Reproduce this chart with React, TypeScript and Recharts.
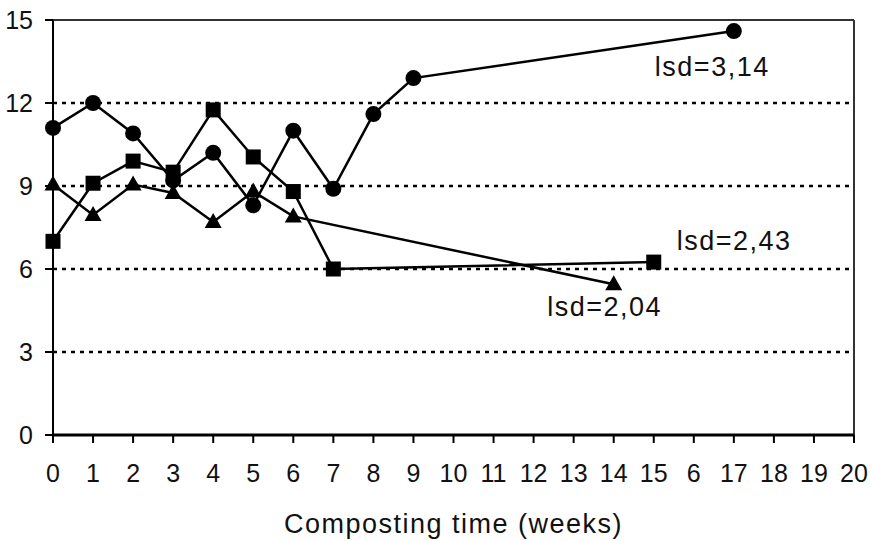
import { LineChart, Line, XAxis, YAxis, ReferenceLine, LabelList } from 'recharts';

const xTicks = [0, 1, 2, 3, 4, 5, 6, 7, 8, 9, 10, 11, 12, 13, 14, 15, 16, 17, 18, 19, 20];
const xTickLabels = ['0', '1', '2', '3', '4', '5', '6', '7', '8', '9', '10', '11', '12', '13', '14', '15', '6', '17', '18', '19', '20'];
const yTicks = [0, 3, 6, 9, 12, 15];
const gridValues = [3, 6, 9, 12];

const circleWeeks = [0, 1, 2, 3, 4, 5, 6, 7, 8, 9, 17];
const circleValues = [11.1, 12.0, 10.9, 9.2, 10.2, 8.3, 11.0, 8.9, 11.6, 12.9, 14.6];

const squareWeeks = [0, 1, 2, 3, 4, 5, 6, 7, 15];
const squareValues = [7.0, 9.1, 9.9, 9.5, 11.75, 10.05, 8.8, 6.0, 6.25];

const triangleWeeks = [0, 1, 2, 3, 4, 5, 6, 14];
const triangleValues = [9.05, 7.95, 9.05, 8.75, 7.7, 8.8, 7.9, 5.45];

const lsdLabels = ['lsd=3,14', 'lsd=2,43', 'lsd=2,04'];

const FONT = '"Liberation Sans", Arial, sans-serif';
const INK = '#000';

const toPoints = (weeks: number[], values: number[]) =>
  weeks.map((week, i) => ({ week, value: values[i] }));

const circleData = toPoints(circleWeeks, circleValues);
const squareData = toPoints(squareWeeks, squareValues);
const triangleData = toPoints(triangleWeeks, triangleValues);

const makeDot = (shape: 'circle' | 'square' | 'triangle') => (props: any) => {
  const { cx, cy, index } = props;
  const key = `${shape}-${index}`;
  if (cx == null || cy == null) return <g key={key} />;
  if (shape === 'circle') return <circle key={key} cx={cx} cy={cy} r={8} fill={INK} />;
  if (shape === 'square') return <rect key={key} x={cx - 7.5} y={cy - 7.5} width={15} height={15} fill={INK} />;
  return (
    <polygon
      key={key}
      points={`${cx},${cy - 9} ${cx + 8.5},${cy + 6} ${cx - 8.5},${cy + 6}`}
      fill={INK}
    />
  );
};

// annotation beside the last point of a series
const makeLsd = (text: string, lastIndex: number, dx: number, dy: number, anchor: string) => (props: any) => {
  const { x, y, index } = props;
  if (index !== lastIndex) return null;
  return (
    <text
      x={x + dx}
      y={y + dy}
      textAnchor={anchor}
      fontSize={27}
      letterSpacing={1.5}
      fontFamily={FONT}
      fill="#111"
    >
      {text}
    </text>
  );
};

const axisTitle = (props: any) => {
  const { viewBox } = props;
  return (
    <text
      x={viewBox.x + viewBox.width / 2}
      y={viewBox.y + 98}
      textAnchor="middle"
      fontSize={27}
      letterSpacing={1.5}
      fontFamily={FONT}
      fill="#111"
    >
      Composting time (weeks)
    </text>
  );
};

export default function App() {
  return (
    <div style={{ position: 'absolute', left: 0, top: 0, background: '#fff' }}>
      <LineChart width={870} height={541} margin={{ top: 20, right: 16, bottom: 0, left: 0 }}>
        <XAxis
          type="number"
          dataKey="week"
          domain={[0, 20]}
          ticks={xTicks}
          interval={0}
          tickFormatter={(v) => xTickLabels[v]}
          height={106}
          tickSize={8}
          tickMargin={21}
          axisLine={{ stroke: INK, strokeWidth: 3 }}
          tickLine={{ stroke: INK, strokeWidth: 2 }}
          tick={{ fill: '#111', fontSize: 25, fontFamily: FONT }}
          label={axisTitle}
        />
        <YAxis
          type="number"
          domain={[0, 15]}
          ticks={yTicks}
          interval={0}
          width={53}
          tickSize={8}
          tickMargin={12}
          axisLine={{ stroke: INK, strokeWidth: 2 }}
          tickLine={{ stroke: INK, strokeWidth: 2 }}
          tick={{ fill: '#111', fontSize: 25, fontFamily: FONT }}
        />
        {gridValues.map((v) => (
          <ReferenceLine key={v} y={v} stroke={INK} strokeWidth={2.5} strokeDasharray="4 5" />
        ))}
        <ReferenceLine y={15} stroke="#333" strokeWidth={2} />
        <ReferenceLine x={20} stroke="#333" strokeWidth={2} />

        <Line
          data={circleData}
          dataKey="value"
          stroke={INK}
          strokeWidth={2.5}
          dot={makeDot('circle')}
          isAnimationActive={false}
        >
          <LabelList dataKey="value" content={makeLsd(lsdLabels[0], circleData.length - 1, -79, 45, 'start')} />
        </Line>
        <Line
          data={squareData}
          dataKey="value"
          stroke={INK}
          strokeWidth={2.5}
          dot={makeDot('square')}
          isAnimationActive={false}
        >
          <LabelList dataKey="value" content={makeLsd(lsdLabels[1], squareData.length - 1, 23, -12, 'start')} />
        </Line>
        <Line
          data={triangleData}
          dataKey="value"
          stroke={INK}
          strokeWidth={2.5}
          dot={makeDot('triangle')}
          isAnimationActive={false}
        >
          <LabelList dataKey="value" content={makeLsd(lsdLabels[2], triangleData.length - 1, -9, 32, 'middle')} />
        </Line>
      </LineChart>
    </div>
  );
}
